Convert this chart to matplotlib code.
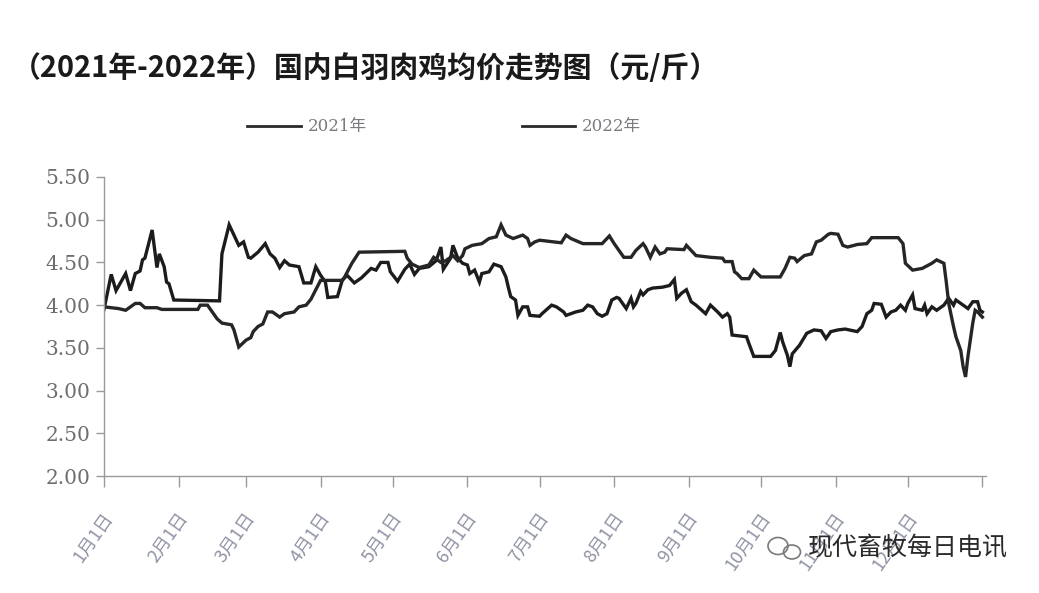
import matplotlib
matplotlib.use("Agg")
import matplotlib.pyplot as plt
from matplotlib.patches import Ellipse
import matplotlib.transforms as mtransforms

# ---------------- data ----------------
month_labels = ["1月1日", "2月1日", "3月1日", "4月1日", "5月1日", "6月1日",
                "7月1日", "8月1日", "9月1日", "10月1日", "11月1日", "12月1日"]
month_start_days = [0, 31, 59, 90, 120, 151, 181, 212, 243, 273, 304, 334]
year_end_day = 365

yticks = [2.00, 2.50, 3.00, 3.50, 4.00, 4.50, 5.00, 5.50]

days_2021 = [0, 3, 5, 9, 11, 13, 15, 16, 17, 20, 22, 23, 25, 26, 27, 29, 48, 49, 52, 56,
             58, 60, 61, 64, 67, 69, 71, 73, 75, 77, 81, 83, 86, 88, 90, 92, 93, 97, 99, 101,
             104, 107, 111, 113, 115, 118, 119, 122, 125, 127, 129, 131, 135, 138, 140, 141, 144, 145, 147, 149,
             151, 152, 154, 156, 157, 160, 162, 165, 167, 168, 169, 171, 172, 174, 176, 177, 181, 182, 186, 188,
             191, 192, 196, 199, 201, 203, 205, 207, 209, 211, 213, 214, 216, 217, 219, 220, 221, 223, 224, 226,
             228, 232, 235, 237, 238, 240, 242, 244, 246, 250, 252, 255, 257, 259, 260, 261, 267, 268, 270, 277,
             279, 281, 282, 284, 285, 286, 289, 292, 295, 298, 300, 302, 305, 308, 313, 315, 317, 319, 320, 323,
             325, 327, 329, 331, 333, 334, 336, 337, 340, 341, 342, 344, 346, 349, 351, 353, 354, 356, 359, 361,
             363, 364, 365]
price_2021 = [3.95, 4.36, 4.17, 4.37, 4.17, 4.37, 4.40, 4.53, 4.55, 4.88, 4.44, 4.60, 4.45, 4.27, 4.25, 4.06, 4.05, 4.60, 4.94, 4.70,
              4.74, 4.56, 4.55, 4.62, 4.72, 4.60, 4.55, 4.44, 4.52, 4.47, 4.45, 4.26, 4.26, 4.45, 4.35, 4.27, 4.09, 4.10, 4.29, 4.35,
              4.26, 4.32, 4.43, 4.41, 4.50, 4.50, 4.39, 4.28, 4.42, 4.48, 4.36, 4.43, 4.45, 4.52, 4.68, 4.42, 4.55, 4.70, 4.55, 4.49,
              4.47, 4.37, 4.41, 4.27, 4.37, 4.39, 4.48, 4.45, 4.33, 4.21, 4.10, 4.06, 3.88, 3.98, 3.98, 3.88, 3.87, 3.90, 4.00, 3.98,
              3.92, 3.88, 3.92, 3.94, 4.00, 3.98, 3.90, 3.87, 3.90, 4.06, 4.09, 4.08, 4.00, 3.96, 4.08, 3.98, 4.02, 4.16, 4.12, 4.18,
              4.20, 4.21, 4.23, 4.30, 4.08, 4.14, 4.18, 4.04, 4.00, 3.90, 4.00, 3.92, 3.86, 3.90, 3.86, 3.65, 3.63, 3.55, 3.40, 3.40,
              3.47, 3.68, 3.57, 3.41, 3.28, 3.43, 3.53, 3.67, 3.71, 3.70, 3.61, 3.69, 3.71, 3.72, 3.69, 3.75, 3.90, 3.94, 4.02, 4.01,
              3.86, 3.92, 3.94, 4.00, 3.94, 4.02, 4.12, 3.96, 3.94, 4.00, 3.90, 3.98, 3.94, 4.00, 4.08, 4.00, 4.06, 4.02, 3.96, 4.04,
              4.04, 3.94, 3.92]

days_2022 = [0, 3, 6, 9, 11, 13, 15, 17, 22, 24, 39, 40, 43, 45, 47, 49, 53, 54, 56, 59,
             61, 62, 64, 66, 68, 70, 73, 75, 79, 81, 84, 86, 88, 90, 99, 100, 103, 106, 125, 126,
             128, 131, 135, 137, 140, 142, 145, 147, 149, 150, 153, 157, 160, 163, 165, 167, 170, 174, 176, 177,
             179, 181, 190, 192, 194, 199, 207, 210, 212, 214, 216, 219, 221, 224, 225, 227, 229, 231, 233, 234,
             241, 242, 246, 252, 257, 258, 261, 262, 263, 265, 268, 270, 273, 281, 283, 285, 287, 288, 291, 294,
             296, 298, 301, 302, 305, 307, 309, 313, 317, 319, 330, 332, 333, 336, 340, 344, 346, 349, 350, 351,
             353, 354, 356, 357, 358, 359, 361, 362, 363, 365]
price_2022 = [3.98, 3.97, 3.96, 3.94, 3.98, 4.02, 4.02, 3.97, 3.97, 3.95, 3.95, 4.00, 4.00, 3.92, 3.84, 3.79, 3.77, 3.71, 3.51, 3.59,
              3.62, 3.69, 3.75, 3.78, 3.92, 3.92, 3.86, 3.90, 3.92, 3.98, 4.00, 4.07, 4.18, 4.29, 4.29, 4.33, 4.49, 4.62, 4.63, 4.55,
              4.48, 4.44, 4.47, 4.56, 4.50, 4.52, 4.58, 4.52, 4.58, 4.66, 4.70, 4.72, 4.78, 4.80, 4.94, 4.82, 4.78, 4.82, 4.78, 4.70,
              4.74, 4.76, 4.73, 4.82, 4.78, 4.72, 4.72, 4.81, 4.72, 4.64, 4.56, 4.56, 4.64, 4.72, 4.68, 4.56, 4.68, 4.60, 4.62, 4.66,
              4.65, 4.70, 4.58, 4.56, 4.55, 4.51, 4.51, 4.39, 4.37, 4.31, 4.31, 4.41, 4.33, 4.33, 4.43, 4.56, 4.55, 4.51, 4.58, 4.60,
              4.74, 4.76, 4.83, 4.84, 4.83, 4.70, 4.68, 4.71, 4.72, 4.79, 4.79, 4.72, 4.49, 4.41, 4.43, 4.49, 4.53, 4.49, 4.27, 4.02,
              3.75, 3.63, 3.47, 3.28, 3.16, 3.40, 3.79, 3.94, 3.92, 3.86]

title_text = "（2021年-2022年）国内白羽肉鸡均价走势图（元/斤）"
watermark_text = "现代畜牧每日电讯"

# ---------------- figure ----------------
W, H = 1039, 593
fig = plt.figure(figsize=(W / 100, H / 100), dpi=100)
fig.patch.set_facecolor("white")

ax_left, ax_right = 104, 986
ax_top, ax_bottom = 177, 476
ax = fig.add_axes([ax_left / W, 1 - ax_bottom / H, (ax_right - ax_left) / W, (ax_bottom - ax_top) / H])

ax.plot(days_2021, price_2021, color="#1c1c1c", lw=2.4, solid_joinstyle="miter", label="2021年")
ax.plot(days_2022, price_2022, color="#262626", lw=2.4, solid_joinstyle="miter", label="2022年")

ax.set_xlim(0, 366.5)
ax.set_ylim(2.0, 5.5)

for s in ["top", "right"]:
    ax.spines[s].set_visible(False)
for s in ["left", "bottom"]:
    ax.spines[s].set_color("#9a9a9a")
    ax.spines[s].set_linewidth(1.0)

ax.set_yticks(yticks)
ax.set_yticklabels([f"{v:.2f}" for v in yticks], family="DejaVu Serif", fontsize=14.5, color="#6e6e6e")
ax.tick_params(axis="y", direction="out", length=6, width=1, color="#9a9a9a", pad=4)

ax.set_xticks(month_start_days + [year_end_day])
ax.set_xticklabels(month_labels + [""], family=["Noto Sans CJK SC", "DejaVu Sans"],
                   fontsize=13, color="#8f93a3", rotation=55, ha="right", va="center",
                   rotation_mode="anchor")
ax.tick_params(axis="x", direction="out", length=8, width=1, color="#9a9a9a", pad=20)
offset = mtransforms.ScaledTranslation(6 / 100, 0, fig.dpi_scale_trans)
for lab in ax.get_xticklabels():
    lab.set_transform(lab.get_transform() + offset)

# title
fig.text(12 / W, 1 - 68 / H, title_text, family=["Noto Sans CJK SC", "DejaVu Sans"],
         fontsize=20.8, fontweight="bold", color="#1a1a1a", ha="left", va="center")

# legend
leg = ax.legend(loc="center", ncol=2, bbox_to_anchor=(444 / W, 1 - 127 / H),
                bbox_transform=fig.transFigure, frameon=False, handlelength=3.2,
                handletextpad=0.4, columnspacing=9.3,
                prop={"family": ["DejaVu Serif", "Noto Sans CJK SC"], "size": 12})
for t in leg.get_texts():
    t.set_color("#7a7a80")
for l in leg.get_lines():
    l.set_linewidth(2.0)
    l.set_color("#2a2a2a")

# watermark
fig.patches.append(Ellipse((778 / W, 1 - 546 / H), 20 / W, 17 / H, transform=fig.transFigure,
                           fill=False, ec="#7a7a7a", lw=1.2))
fig.patches.append(Ellipse((792 / W, 1 - 552 / H), 17 / W, 14 / H, transform=fig.transFigure,
                           fill=False, ec="#7a7a7a", lw=1.2))
fig.text(808 / W, 1 - 548 / H, watermark_text, family=["Noto Sans CJK SC", "DejaVu Sans"],
         fontsize=18, color="#2a2a2a", ha="left", va="center")

fig.savefig("out.png", dpi=100, facecolor="white")
